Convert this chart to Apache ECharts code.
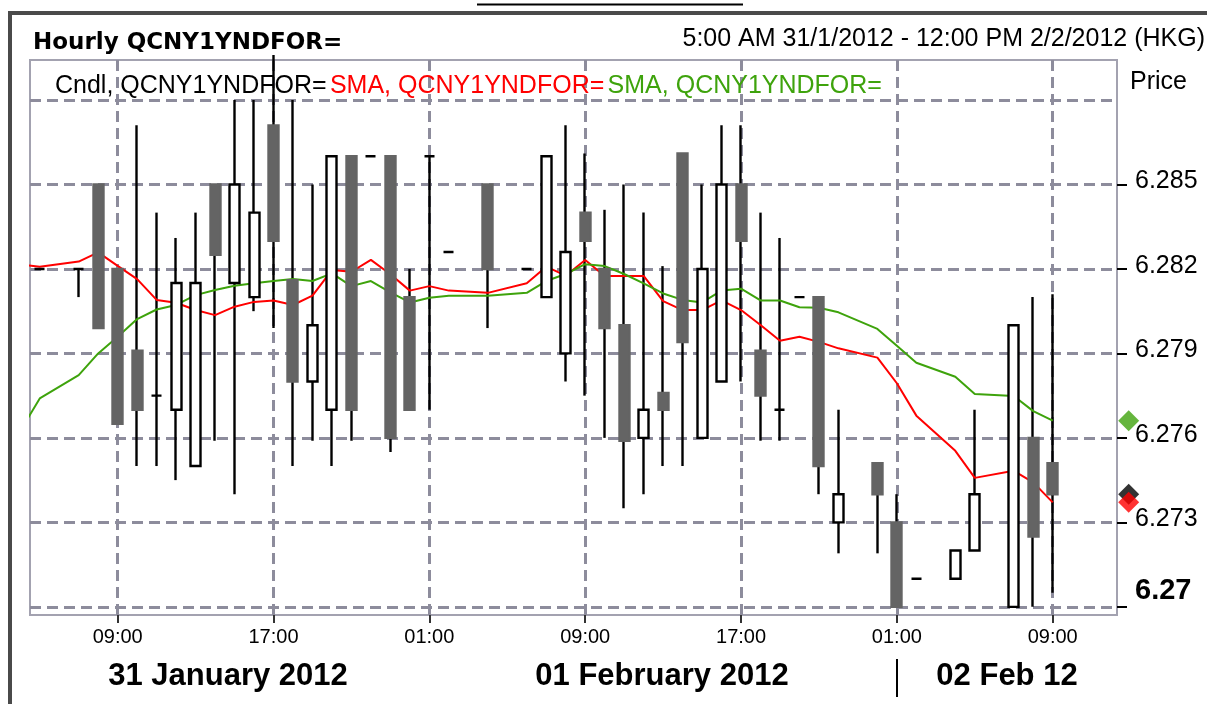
<!DOCTYPE html>
<html>
<head>
<meta charset="utf-8">
<script src="https://cdn.jsdelivr.net/npm/echarts@6/dist/echarts.min.js"></script>
<style>
html,body{margin:0;padding:0;background:#fff;}
#chart{width:1207px;height:704px;}
</style>
</head>
<body>
<div id="chart"></div>
<script>
// hours since 05:00 31/1/2012 (hourly bars; missing hours are gaps)
const hours = [0,2,3,4,5,6,7,8,9,10,11,12,13,14,15,16,17,18,19,20,21,23,25,26,27,28,29,30,31,32,33,34,35,36,37,38,39,40,41,43,44,45,47,48,50,51,52];
const open  = [6.2820,6.2820,6.2850,6.2820,6.2791,6.2775,6.2770,6.2750,6.2850,6.2815,6.2810,6.2871,6.2816,6.2780,6.2770,6.2860,6.2860,6.2860,6.2810,6.2860,6.2826,6.2850,6.2820,6.2810,6.2790,6.2840,6.2820,6.2800,6.2760,6.2776,6.2861,6.2760,6.2780,6.2850,6.2791,6.2770,6.2810,6.2810,6.2730,6.2751,6.2730,6.2710,6.2710,6.2720,6.2700,6.2760,6.2751];
const close = [6.2820,6.2820,6.2799,6.2765,6.2770,6.2775,6.2815,6.2815,6.2825,6.2850,6.2840,6.2830,6.2780,6.2800,6.2860,6.2770,6.2860,6.2760,6.2770,6.2860,6.2826,6.2820,6.2820,6.2860,6.2826,6.2830,6.2799,6.2759,6.2770,6.2770,6.2794,6.2820,6.2850,6.2830,6.2775,6.2770,6.2810,6.2750,6.2740,6.2740,6.2700,6.2710,6.2720,6.2740,6.2800,6.2725,6.2740];
const low   = [6.2820,6.2810,6.2799,6.2765,6.2750,6.2750,6.2745,6.2750,6.2759,6.2740,6.2805,6.2799,6.2750,6.2759,6.2750,6.2759,6.2860,6.2755,6.2770,6.2770,6.2826,6.2799,6.2820,6.2810,6.2780,6.2775,6.2760,6.2735,6.2740,6.2750,6.2750,6.2760,6.2780,6.2780,6.2759,6.2759,6.2810,6.2740,6.2719,6.2719,6.2700,6.2710,6.2710,6.2720,6.2700,6.2700,6.2705];
const high  = [6.2820,6.2820,6.2850,6.2820,6.2871,6.2840,6.2831,6.2840,6.2850,6.2880,6.2880,6.2896,6.2880,6.2850,6.2860,6.2860,6.2860,6.2860,6.2820,6.2860,6.2826,6.2850,6.2820,6.2860,6.2871,6.2861,6.2841,6.2850,6.2840,6.2821,6.2861,6.2850,6.2871,6.2871,6.2840,6.2831,6.2810,6.2810,6.2770,6.2751,6.2740,6.2710,6.2720,6.2770,6.2800,6.2810,6.2811];
// moving averages (first point is the hour before the visible window)
const smaHours = [-1].concat(hours);
const smaRed   = [6.28215,6.28208,6.28226,6.28259,6.28211,6.28164,6.28090,6.28080,6.28054,6.28036,6.28066,6.28083,6.28088,6.28072,6.28105,6.28196,6.28190,6.28232,6.28181,6.28123,6.28139,6.28123,6.28115,6.28149,6.28208,6.28176,6.28232,6.28175,6.28175,6.28175,6.28086,6.28054,6.28054,6.28088,6.28054,6.28001,6.27945,6.27959,6.27941,6.27918,6.27885,6.27794,6.27679,6.27554,6.27458,6.27483,6.27442,6.27371];
const smaGreen = [6.27625,6.27740,6.27823,6.27900,6.27959,6.28022,6.28056,6.28072,6.28107,6.28125,6.28140,6.28149,6.28157,6.28164,6.28157,6.28184,6.28139,6.28157,6.28117,6.28081,6.28098,6.28105,6.28105,6.28115,6.28157,6.28182,6.28217,6.28210,6.28182,6.28149,6.28113,6.28090,6.28081,6.28123,6.28130,6.28088,6.28088,6.28064,6.28062,6.28046,6.27987,6.27927,6.27867,6.27817,6.27756,6.27749,6.27695,6.27661];
const xTicks = [4,12,20,28,36,44,52];
const yGrid = [6.270,6.273,6.276,6.279,6.282,6.285,6.288];
const yLabels = [6.270,6.273,6.276,6.279,6.282,6.285];
const dayLabels = ['31 January 2012','01 February 2012','02 Feb 12'];
const seriesNames = ['Cndl, QCNY1YNDFOR=','SMA, QCNY1YNDFOR=','SMA, QCNY1YNDFOR='];

const X_MIN = -0.5, X_MAX = 55.3, Y_MIN = 6.26971, Y_MAX = 6.28942;
const FONT = "'Liberation Sans', Arial, sans-serif";
const RED = '#ff0000', GREEN = '#3ea30c', GRID = '#8d8c9c';

const wickData = hours.map((h,i)=>[h, open[i], close[i], low[i], high[i]]);
const bodyData = hours.map((h,i)=>[h, open[i], close[i], Math.min(open[i],close[i]), Math.max(open[i],close[i])]);
const pad = n => (n<10?'0':'')+n;
const last = hours.length-1;

const chart = echarts.init(document.getElementById('chart'), null, {renderer:'canvas'});
chart.setOption({
  animation:false,
  backgroundColor:'#fff',
  grid:{left:30,right:90,top:60,bottom:89,show:true,borderColor:'#a3a2b0',borderWidth:2,backgroundColor:'#fff'},
  xAxis:{
    type:'value',min:X_MIN,max:X_MAX,
    axisLine:{show:false,onZero:false},
    axisTick:{show:true,customValues:xTicks,length:8,lineStyle:{color:'#333',width:2}},
    axisLabel:{customValues:xTicks,margin:12,color:'#000',fontFamily:FONT,fontSize:20,
      formatter:v=>pad((5+v)%24)+':00'},
    splitLine:{show:true,lineStyle:{color:GRID,width:3,type:[11,6]}}
  },
  yAxis:[{
    type:'value',position:'right',min:Y_MIN,max:Y_MAX,scale:true,
    axisLine:{show:false,onZero:false},
    axisTick:{show:true,customValues:yLabels,length:10,lineStyle:{color:'#000',width:2}},
    axisLabel:{customValues:yLabels,margin:18,
      formatter:v=>{const s=String(Number(v.toFixed(3)));return Math.abs(v-6.27)<1e-9?'{b|'+s+'}':'{n|'+s+'}';},
      rich:{n:{fontFamily:FONT,fontSize:25,color:'#000',padding:[0,0,6,0]},
            b:{fontFamily:FONT,fontSize:29,fontWeight:'bold',color:'#000',padding:[0,0,32,0]}}},
    splitLine:{show:false}
  },{
    type:'value',position:'right',min:Y_MIN,max:Y_MAX,scale:true,
    axisLine:{show:false,onZero:false},
    axisTick:{show:false,customValues:yGrid},
    axisLabel:{show:false,customValues:yGrid},
    splitLine:{show:true,lineStyle:{color:GRID,width:3,type:[11,6]}}
  }],
  series:[
    {name:seriesNames[0],type:'candlestick',data:wickData,barWidth:1,z:3,
      encode:{x:0,y:[1,2,3,4]},
      itemStyle:{color:'#000',color0:'#000',borderColor:'#000',borderColor0:'#000',borderColorDoji:'#000',borderWidth:2.4},
      emphasis:{disabled:true}},
    {name:seriesNames[1],type:'line',data:smaHours.map((h,i)=>[h,smaRed[i]]),showSymbol:false,symbol:'none',
      lineStyle:{color:RED,width:2},z:4,clip:true,emphasis:{disabled:true}},
    {name:seriesNames[2],type:'line',data:smaHours.map((h,i)=>[h,smaGreen[i]]),showSymbol:false,symbol:'none',
      lineStyle:{color:GREEN,width:2},z:4,clip:true,emphasis:{disabled:true}},
    {name:seriesNames[0]+' body',type:'candlestick',data:bodyData,barWidth:10.5,z:5,
      encode:{x:0,y:[1,2,3,4]},
      itemStyle:{color:'#fff',color0:'#646464',borderColor:'#000',borderColor0:'#646464',borderColorDoji:'#000',borderWidth:2.4},
      emphasis:{disabled:true}},
    {type:'scatter',symbol:'diamond',symbolSize:21,clip:false,z:6,silent:true,
      data:[
        {value:[X_MAX+0.6,smaGreen[smaGreen.length-1]],itemStyle:{color:GREEN}},
        {value:[X_MAX+0.6,close[last]],itemStyle:{color:'#000'}},
        {value:[X_MAX+0.6,smaRed[smaRed.length-1]],itemStyle:{color:RED}}
      ]}
  ],
  graphic:[
    {type:'rect',z:-1,shape:{x:10,y:13,width:1400,height:900},style:{fill:null,stroke:'#4a4a4a',lineWidth:4},silent:true},
    {type:'line',shape:{x1:477,y1:4.5,x2:743,y2:4.5},style:{stroke:'#000',lineWidth:2},silent:true},
    {type:'text',left:33,top:32,style:{text:'Hourly QCNY1YNDFOR=',fontFamily:"'DejaVu Sans', sans-serif",fontWeight:'bold',fontSize:23,fill:'#000'}},
    {type:'text',right:2,top:27,style:{text:'5:00 AM 31/1/2012 - 12:00 PM 2/2/2012 (HKG)',fontFamily:FONT,fontSize:25,fill:'#000'}},
    {type:'text',left:55,top:74,z:10,style:{
      text:'{k|'+seriesNames[0]+'} {r|'+seriesNames[1]+'} {g|'+seriesNames[2]+'}',
      rich:{k:{fontFamily:FONT,fontSize:25,fill:'#000'},r:{fontFamily:FONT,fontSize:25,fill:RED},g:{fontFamily:FONT,fontSize:25,fill:GREEN}}}},
    {type:'text',left:1130,top:70,style:{text:'Price',fontFamily:FONT,fontSize:25,fill:'#000'}},
    {type:'text',x:228,y:676,style:{text:dayLabels[0],align:'center',verticalAlign:'middle',fontFamily:FONT,fontWeight:'bold',fontSize:31,fill:'#000'}},
    {type:'text',x:662,y:676,style:{text:dayLabels[1],align:'center',verticalAlign:'middle',fontFamily:FONT,fontWeight:'bold',fontSize:31,fill:'#000'}},
    {type:'text',x:1007,y:676,style:{text:dayLabels[2],align:'center',verticalAlign:'middle',fontFamily:FONT,fontWeight:'bold',fontSize:31,fill:'#000'}},
    {type:'line',shape:{x1:897,y1:659,x2:897,y2:697},style:{stroke:'#000',lineWidth:2},silent:true}
  ]
});
</script>
</body>
</html>
